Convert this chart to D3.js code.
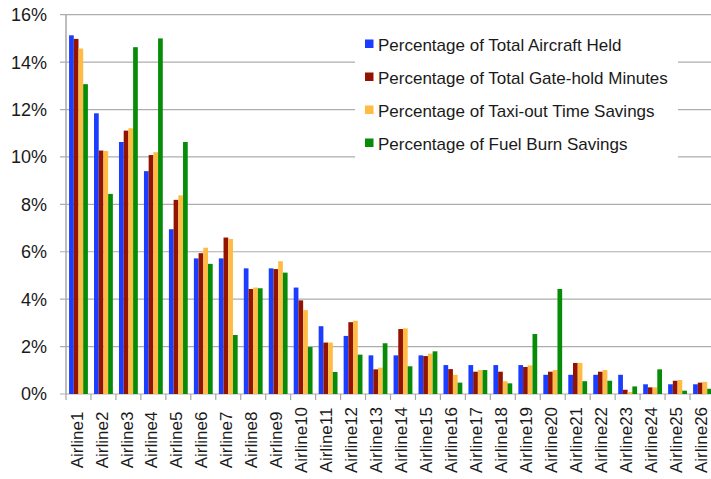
<!DOCTYPE html>
<html>
<head lang="en">
    <meta charset="UTF-8">
    <title></title>
    <style>
        body { margin: 0; background: #fff; }
        text { font-family: "Liberation Sans", Arial, sans-serif; fill: #1a1a1a; }
    </style>
</head>
<body>
<div id="chart"></div>
<script src="https://cdn.jsdelivr.net/npm/d3@7"></script>
<script>
    // data (percent)
    var airlines = ["Airline1","Airline2","Airline3","Airline4","Airline5","Airline6","Airline7","Airline8","Airline9",
        "Airline10","Airline11","Airline12","Airline13","Airline14","Airline15","Airline16","Airline17","Airline18",
        "Airline19","Airline20","Airline21","Airline22","Airline23","Airline24","Airline25","Airline26"];
    var seriesNames = ["Percentage of Total Aircraft Held", "Percentage of Total Gate-hold Minutes",
        "Percentage of Taxi-out Time Savings", "Percentage of Fuel Burn Savings"];
    var aircraftHeld = [15.13, 11.84, 10.63, 9.40, 6.95, 5.72, 5.72, 5.30, 5.30, 4.49, 2.86, 2.45, 1.63, 1.63, 1.63,
        1.22, 1.22, 1.22, 1.22, 0.81, 0.81, 0.81, 0.81, 0.41, 0.41, 0.41];
    var gateHoldMinutes = [14.98, 10.27, 11.11, 10.08, 8.19, 5.94, 6.60, 4.43, 5.27, 3.95, 2.17, 3.03, 1.04, 2.74, 1.60,
        1.05, 0.94, 0.94, 1.14, 0.94, 1.31, 0.94, 0.18, 0.28, 0.56, 0.48];
    var taxiOutSavings = [14.57, 10.25, 11.21, 10.20, 8.38, 6.17, 6.54, 4.49, 5.60, 3.54, 2.17, 3.09, 1.11, 2.77, 1.70,
        0.81, 1.01, 0.54, 1.21, 1.01, 1.31, 1.01, 0.08, 0.28, 0.59, 0.51];
    var fuelBurnSavings = [13.07, 8.44, 14.63, 15.00, 10.63, 5.49, 2.49, 4.46, 5.12, 1.98, 0.93, 1.66, 2.14, 1.17, 1.80,
        0.48, 1.01, 0.45, 2.53, 4.43, 0.54, 0.56, 0.32, 1.04, 0.14, 0.22];
    var yTicks = [0, 2, 4, 6, 8, 10, 12, 14, 16];
    var colors = ["#1a3dff", "#911300", "#ffbb44", "#078c07"];

    var allSeries = [aircraftHeld, gateHoldMinutes, taxiOutSavings, fuelBurnSavings];

    var W = 711, H = 479;
    var plotLeft = 66, plotRight = 715, plotTop = 14.7, plotBottom = 394;

    var svg = d3.select("#chart").append("svg")
        .attr("width", W)
        .attr("height", H);

    var x0 = d3.scaleBand().domain(airlines).range([plotLeft, plotRight]).padding(0);
    var x1 = d3.scaleBand().domain(d3.range(seriesNames.length)).range([0, x0.bandwidth()]).paddingOuter(0.65);
    var y = d3.scaleLinear().domain([0, 16]).range([plotBottom, plotTop]);

    // gridlines
    svg.append("g").selectAll("line").data(yTicks).enter().append("line")
        .attr("x1", plotLeft - 6).attr("x2", W)
        .attr("y1", function(d){ return y(d); })
        .attr("y2", function(d){ return y(d); })
        .attr("stroke", "#adadad")
        .attr("stroke-width", 1.2);

    // y labels
    svg.append("g").selectAll("text").data(yTicks).enter().append("text")
        .attr("x", 47)
        .attr("y", function(d){ return y(d); })
        .attr("dy", "0.36em")
        .attr("text-anchor", "end")
        .style("font-size", "18px")
        .text(function(d){ return d + "%"; });

    // bars
    var groups = svg.append("g").selectAll("g").data(airlines).enter().append("g")
        .attr("transform", function(d){ return "translate(" + x0(d) + ",0)"; });
    groups.selectAll("rect")
        .data(function(d, i){ return allSeries.map(function(s, k){ return {k: k, v: s[i]}; }); })
        .enter().append("rect")
        .attr("x", function(d){ return x1(d.k); })
        .attr("width", x1.bandwidth())
        .attr("y", function(d){ return y(d.v); })
        .attr("height", function(d){ return plotBottom - y(d.v); })
        .attr("fill", function(d){ return colors[d.k]; });

    // axis line + x ticks
    svg.append("line")
        .attr("x1", plotLeft).attr("x2", plotLeft)
        .attr("y1", plotTop).attr("y2", plotBottom)
        .attr("stroke", "#a8a8a8").attr("stroke-width", 1.5);
    svg.append("g").selectAll("line").data(airlines).enter().append("line")
        .attr("x1", function(d){ return x0(d); })
        .attr("x2", function(d){ return x0(d); })
        .attr("y1", plotBottom).attr("y2", plotBottom + 6)
        .attr("stroke", "#a8a8a8").attr("stroke-width", 1.2);

    // x labels
    svg.append("g").selectAll("text").data(airlines).enter().append("text")
        .attr("transform", function(d){
            return "translate(" + (x0(d) + x0.bandwidth() / 2 - 1) + ",440) rotate(-90)";
        })
        .attr("dy", "0.3em")
        .attr("text-anchor", "middle")
        .style("font-size", "17px")
        .text(function(d){ return d; });

    // legend
    var legend = svg.append("g");
    legend.append("rect")
        .attr("x", 355).attr("y", 22)
        .attr("width", 323).attr("height", 142)
        .attr("fill", "#fff");
    var items = legend.selectAll("g").data(seriesNames).enter().append("g")
        .attr("transform", function(d, i){ return "translate(365," + (45 + i * 33) + ")"; });
    items.append("rect")
        .attr("x", 0).attr("y", -5.5)
        .attr("width", 8.5).attr("height", 8.5)
        .attr("fill", function(d, i){ return colors[i]; });
    items.append("text")
        .attr("x", 13).attr("y", 0)
        .attr("dy", "0.36em")
        .style("font-size", "17px")
        .text(function(d){ return d; });
</script>
</body>
</html>
